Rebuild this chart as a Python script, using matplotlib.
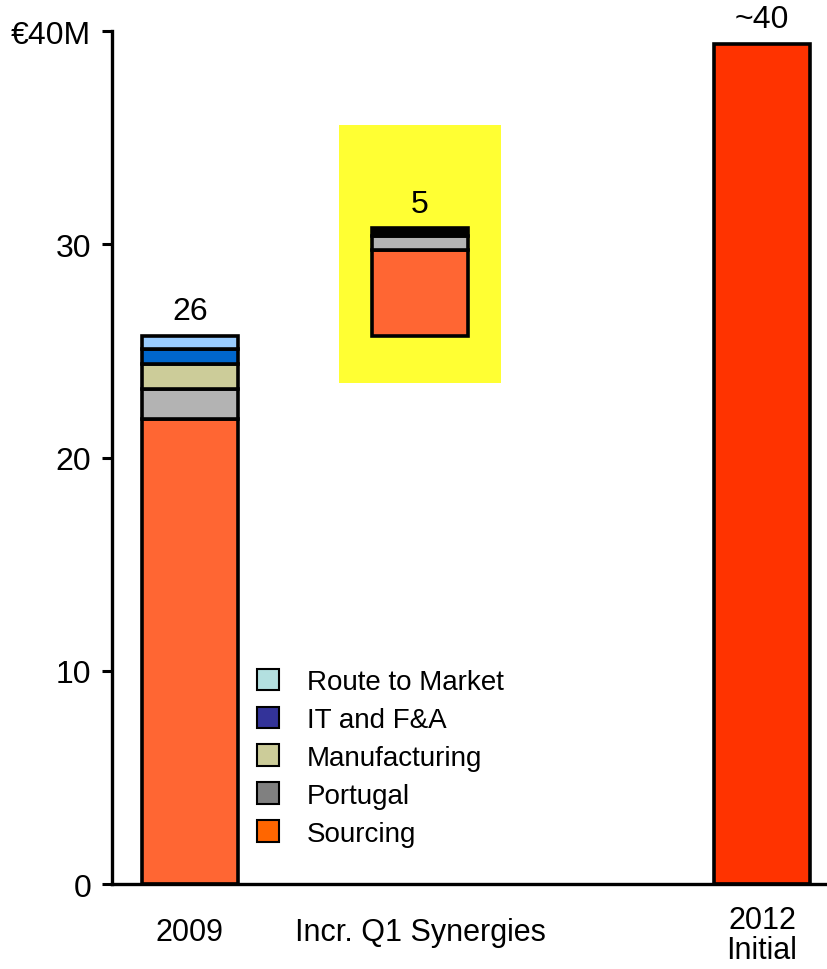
import matplotlib
matplotlib.use('Agg')
import matplotlib.pyplot as plt
import matplotlib.transforms as mtransforms
from matplotlib.patches import Rectangle, Patch

plt.rcParams['font.family'] = ['Liberation Sans', 'DejaVu Sans']

# data
categories = ['2009', 'Incr. Q1 Synergies', '2012\nInitial']
sourcing = [21.8, 4.05, 39.4]
portugal = [1.4, 0.65, 0]
manufacturing = [1.2, 0, 0]
it_fa = [0.7, 0, 0]
route = [0.6, 0, 0]
other_incr = [0, 0.35, 0]
bar_labels = ['26', '5', '~40']
yticks = [0, 10, 20, 30, 40]
ytick_labels = ['0', '10', '20', '30', '€40M']

xpos = [0.78, 3.08, 6.50]
w = 0.96

fig = plt.figure(figsize=(8.27, 9.70), dpi=100)
ax = fig.add_axes([0.1354, 0.0876, 0.8646, 0.8794])

# incremental bar floats on top of the 2009 total
base_2009 = sourcing[0] + portugal[0] + manufacturing[0] + it_fa[0] + route[0]
start = [0, base_2009, 0]

# highlight box behind the incremental bar
ax.add_patch(Rectangle((xpos[1] - 0.81, 23.5), 1.62, 12.1, facecolor='#FFFF33',
                       edgecolor='none', zorder=0))

bar_src_colors = ['#FF6633', '#FF6633', '#FF3300']
lw = 2.6
ax.bar(xpos, sourcing, w, bottom=start, color=bar_src_colors, edgecolor='black',
       linewidth=lw, zorder=2)
bottom = [b + v for b, v in zip(start, sourcing)]
for vals, col in [(portugal, '#B3B3B3'), (manufacturing, '#CCCC99'),
                  (it_fa, '#0066CC'), (route, '#99CCFF'), (other_incr, '#000000')]:
    xs = [x for x, v in zip(xpos, vals) if v > 0]
    bs = [b for b, v in zip(bottom, vals) if v > 0]
    vs = [v for v in vals if v > 0]
    ax.bar(xs, vs, w, bottom=bs, color=col, edgecolor='black', linewidth=lw, zorder=2)
    bottom = [b + v for b, v in zip(bottom, vals)]

for x, top, lab in zip(xpos, bottom, bar_labels):
    ax.text(x, top + 0.45, lab, ha='center', va='bottom', fontsize=23)

ax.set_xlim(0, 7.15)
ax.set_ylim(0, 40)
ax.set_yticks(yticks)
ax.set_yticklabels(ytick_labels, fontsize=23)
ax.set_xticks(xpos)
ax.set_xticklabels(categories, fontsize=22, linespacing=1.0)
ax.tick_params(axis='x', length=0, pad=15)
ax.tick_params(axis='y', length=7, width=2.2, pad=8)
labs = ax.get_xticklabels()
labs[1].set_x(xpos[1] + 0.22)
shift_down = mtransforms.ScaledTranslation(0, -12 / 100, fig.dpi_scale_trans)
for t in labs[:2]:
    t.set_transform(t.get_transform() + shift_down)
for s in ['top', 'right']:
    ax.spines[s].set_visible(False)
for s in ['left', 'bottom']:
    ax.spines[s].set_linewidth(2.4)
ax.spines['bottom'].set_zorder(3)

legend_items = [('Route to Market', '#B3E0E0'), ('IT and F&A', '#333399'),
                ('Manufacturing', '#CCCC99'), ('Portugal', '#808080'),
                ('Sourcing', '#FF6600')]
handles = [Patch(facecolor=c, edgecolor='black', linewidth=1.5, label=l)
           for l, c in legend_items]
ax.legend(handles=handles, loc='lower left', bbox_to_anchor=(0.168, 0.0145),
          frameon=False, fontsize=20, handlelength=0.8, handleheight=0.8,
          handletextpad=1.0, labelspacing=0.42)

fig.savefig('out.png', dpi=100)
